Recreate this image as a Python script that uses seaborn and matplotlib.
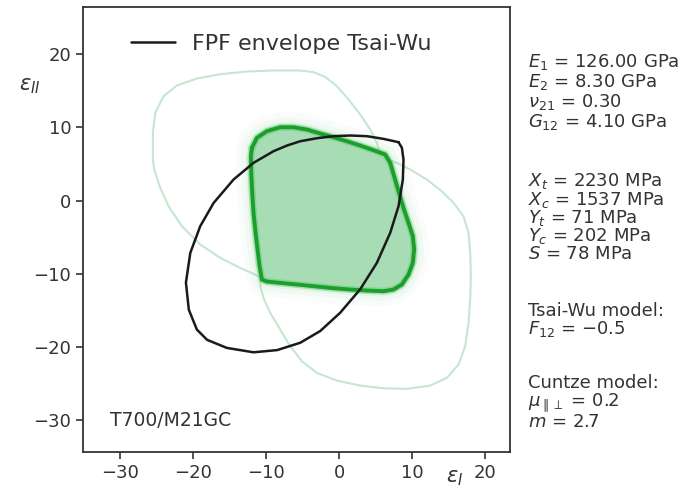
import numpy as np
import pandas as pd
import matplotlib
matplotlib.use("Agg")
import matplotlib.pyplot as plt
import seaborn as sns

# ---------------- data ----------------
# FPF envelope Tsai-Wu (closed curve)
tw_x = [8.13, 6.07, 3.79, 1.51, -0.78, -3.06, -5.34, -7.16, -9.0, -11.74, -14.48, -17.2,
        -19.04, -20.4, -21.0, -20.6, -19.5, -18.1, -15.4, -11.74, -8.5, -5.34, -2.6, 0.14,
        2.88, 5.16, 6.99, 8.13, 8.72, 8.81, 8.59, 8.13]
tw_y = [7.96, 8.41, 8.78, 8.87, 8.78, 8.5, 8.09, 7.5, 6.73, 5.14, 2.86, -0.32,
        -3.5, -7.14, -11.2, -14.9, -17.6, -19.0, -20.1, -20.7, -20.4, -19.4, -17.8, -15.3,
        -12.1, -8.5, -4.4, -0.77, 2.86, 5.59, 7.19, 7.96]

# Cuntze envelope (filled)
cz_x = [-11.96, -11.28, -9.91, -8.08, -6.26, -4.43, -2.6, -0.78, 1.05, 2.88, 4.7, 6.3,
        6.99, 7.53, 8.13, 8.81, 9.5, 10.09, 10.27, 10.09, 9.5, 8.58, 7.44, 6.07, 3.79,
        1.51, -0.78, -3.06, -5.34, -7.63, -9.91, -10.59, -10.91, -11.19, -11.46, -11.74,
        -11.92, -12.05, -12.1, -11.96]
cz_y = [7.18, 8.55, 9.46, 10.0, 10.0, 9.69, 9.14, 8.64, 8.09, 7.5, 6.87, 6.28,
        5.14, 3.32, 1.27, -1.0, -3.05, -4.87, -6.68, -8.5, -10.1, -11.46, -12.14, -12.37, -12.28,
        -12.14, -11.96, -11.73, -11.5, -11.28, -11.05, -10.78, -8.96, -6.68, -4.41, -1.68,
        1.05, 3.77, 6.05, 7.18]

# scatter envelopes (faint), upper-left and lower-right
ul_x = [-25.53, -25.53, -25.2, -24.06, -22.24, -19.5, -16.3, -12.65, -9.0, -5.34, -3.52,
        -1.92, -0.32, 1.28, 2.88, 4.25, 5.16, 5.9, 6.5, 6.7, 6.2, 4.8, 2.5, -0.5, -4.0,
        -7.5, -10.82, -13.56, -16.3, -19.04, -21.55, -23.38, -24.61, -25.34, -25.53]
ul_y = [5.59, 9.23, 11.96, 14.23, 15.69, 16.64, 17.23, 17.6, 17.74, 17.74, 17.51,
        16.87, 15.6, 13.78, 11.73, 9.69, 7.87, 5.5, 2.5, -1.0, -4.0, -6.8, -9.0, -10.3, -10.7,
        -10.8, -10.41, -9.19, -7.82, -6.0, -3.5, -0.77, 1.95, 4.23, 5.59]

lr_x = [7.9, 9.73, 12.01, 14.06, 15.66, 17.03, 17.72, 17.95, 18.04, 17.95, 17.72, 17.26,
        16.35, 14.75, 12.47, 9.27, 6.07, 2.88, -0.32, -3.06, -5.11, -6.71, -8.08, -9.45,
        -10.37, -10.82, -10.6, -10.2, -9.3, -7.5, -5.0, -2.0, 1.5, 4.8, 7.9]
lr_y = [5.14, 4.23, 2.86, 1.27, -0.32, -2.14, -4.41, -7.14, -10.32, -13.51, -16.69, -19.87,
        -22.37, -24.19, -25.24, -25.69, -25.6, -25.24, -24.56, -23.51, -21.92, -19.87, -17.6, -15.32,
        -13.28, -11.69, -8.5, -5.0, -1.5, 2.0, 4.8, 6.3, 6.8, 6.2, 5.14]

x_ticks = [-30, -20, -10, 0, 10, 20]
y_ticks = [-30, -20, -10, 0, 10, 20]

legend_label = "FPF envelope Tsai-Wu"
material = "T700/M21GC"
elastic_lines = [r"$E_1$ = 126.00 GPa", r"$E_2$ = 8.30 GPa", r"$\nu_{21}$ = 0.30",
                 r"$G_{12}$ = 4.10 GPa"]
strength_lines = [r"$X_t$ = 2230 MPa", r"$X_c$ = 1537 MPa", r"$Y_t$ = 71 MPa",
                  r"$Y_c$ = 202 MPa", r"$S$ = 78 MPa"]
tsaiwu_lines = ["Tsai-Wu model:", r"$F_{12}$ = $-$0.5"]
cuntze_lines = ["Cuntze model:", r"$\mu_{\parallel\perp}$ = 0.2", r"$m$ = 2.7"]

# ---------------- plot ----------------
sns.set_style("ticks")
plt.rcParams["font.family"] = ["DejaVu Sans"]

W, H = 695, 492
fig = plt.figure(figsize=(W / 100, H / 100), dpi=100)
ax = fig.add_axes([83 / W, 1 - 452 / H, 427 / W, 445 / H])


def outline(xs, ys, **kw):
    df = pd.DataFrame({"x": xs, "y": ys})
    sns.lineplot(data=df, x="x", y="y", sort=False, estimator=None, ax=ax,
                 solid_joinstyle="round", solid_capstyle="round", **kw)


faint = "#c6e6cf"
for xs, ys in [(ul_x, ul_y), (lr_x, lr_y)]:
    outline(xs, ys, color=faint, lw=1.5, zorder=2)

# soft haze around the Cuntze region
for lw, a in [(22, 0.05), (14, 0.07), (8, 0.12)]:
    outline(cz_x, cz_y, color="#8fd69d", lw=lw, alpha=a, zorder=2.5)

ax.fill(cz_x, cz_y, color="#a7dcb5", lw=0, zorder=3)
outline(cz_x, cz_y, color="#5fcf72", lw=5, alpha=0.5, zorder=3.5)
outline(cz_x, cz_y, color="#1d9e2c", lw=2.8, zorder=4)

outline(tw_x, tw_y, color="#1a1a1a", lw=1.8, zorder=5, label=legend_label)

ax.set_xlim(-35.1, 23.4)
ax.set_ylim(-34.3, 26.4)
ax.set_xticks(x_ticks)
ax.set_yticks(y_ticks)
ax.tick_params(labelsize=13, length=5, width=1.2, color="#333333", labelcolor="#333333")
for s in ax.spines.values():
    s.set_color("#333333")
    s.set_linewidth(1.3)
ax.set_xlabel("")
ax.set_ylabel("")

leg = ax.legend(loc="upper left", bbox_to_anchor=(0.065, 0.985), frameon=False,
                fontsize=16, handlelength=2.0, handletextpad=0.75)
for t in leg.get_texts():
    t.set_color("#333333")

ax.text(0.063, 0.07, material, transform=ax.transAxes, fontsize=13.5,
        color="#333333", va="center", ha="left")

fig.text(30 / W, 1 - 86 / H, r"$\varepsilon_{II}$", fontsize=15, ha="center",
         va="center", color="#333333")
fig.text(455 / W, 1 - 478 / H, r"$\varepsilon_{I}$", fontsize=15, ha="center",
         va="center", color="#333333")

# parameter blocks: (lines, top pixel of block, line spacing)
for lines, top_px, ls in [(elastic_lines, 52, 1.0), (strength_lines, 171, 0.9),
                          (tsaiwu_lines, 302, 0.95), (cuntze_lines, 374, 0.95)]:
    fig.text(528 / W, 1 - top_px / H, "\n".join(lines), fontsize=13, ha="left",
             va="top", color="#333333", linespacing=ls)

fig.savefig("out.png", dpi=100)
